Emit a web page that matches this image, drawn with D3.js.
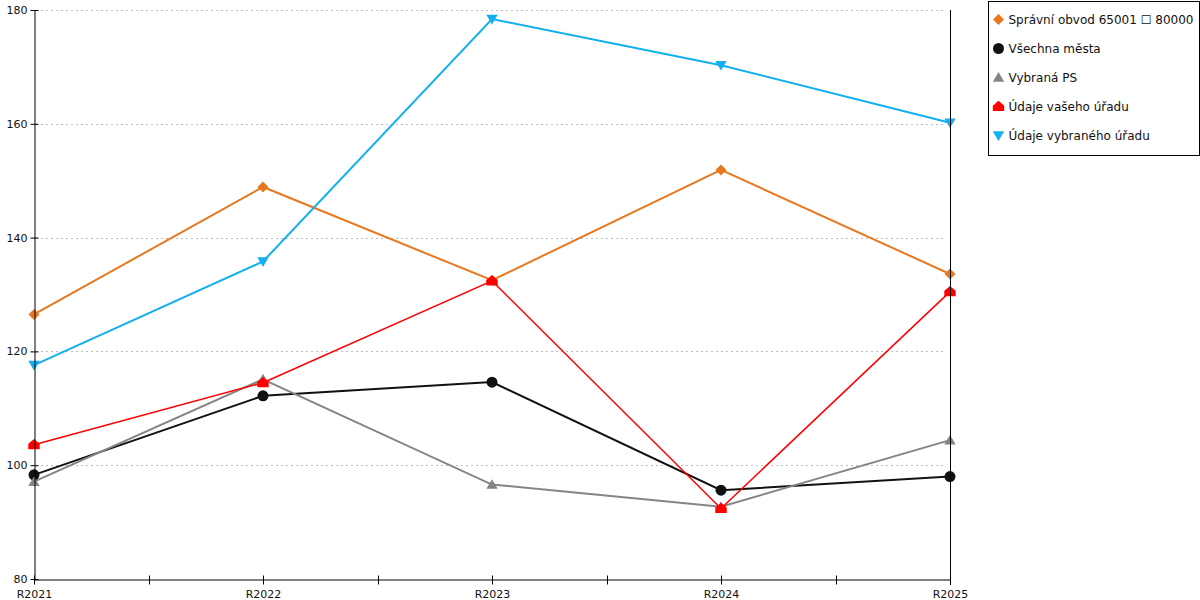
<!doctype html>
<html lang="cs">
<head>
<meta charset="utf-8" />
<title>Srovnání úřadů R2021–R2025</title>
<script src="https://d3js.org/d3.v7.min.js"></script>
<style>
  body { margin: 0; background: #fff; }
  svg text { font-family: "DejaVu Sans", Verdana, sans-serif; font-size: 11px; fill: #111; }
  svg .item text { font-size: 12px; }
</style>
</head>
<body>
<div id="chart"></div>
<script>
// categories (x axis)
var years = ["R2021", "R2022", "R2023", "R2024", "R2025"];
var yTicks = [80, 100, 120, 140, 160, 180];

// series values
var spravniObvod  = [126.5, 148.9, 132.5, 151.9, 133.6];
var vsechnaMesta  = [98.3, 112.2, 114.6, 95.6, 98.0];
var vybranaPS     = [97.1, 115.1, 96.6, 92.7, 104.4];
var vasUrad       = [103.6, 114.5, 132.4, 92.4, 130.5];
var vybranyUrad   = [117.6, 135.8, 178.4, 170.3, 160.2];

var seriesNames = ["Správní obvod 65001 \u2610 80000", "Všechna města", "Vybraná PS",
                   "Údaje vašeho úřadu", "Údaje vybraného úřadu"];
var seriesColors = ["#e8781f", "#111111", "#858585", "#ff0000", "#12b0ee"];

// marker shapes
var symbolHouse = {
    draw: function (ctx, size) {
        var w = Math.sqrt(size) / 2;
        ctx.moveTo(0, -w);
        ctx.lineTo(w, -w * 0.15);
        ctx.lineTo(w, w * 0.8);
        ctx.lineTo(-w, w * 0.8);
        ctx.lineTo(-w, -w * 0.15);
        ctx.closePath();
    }
};
var symbolTriDown = {
    draw: function (ctx, size) {
        var w = Math.sqrt(size) / 2;
        ctx.moveTo(-w, -w * 0.75);
        ctx.lineTo(w, -w * 0.75);
        ctx.lineTo(0, w * 0.95);
        ctx.closePath();
    }
};
var symbolTriUp = {
    draw: function (ctx, size) {
        var w = Math.sqrt(size) / 2;
        ctx.moveTo(-w, w * 0.75);
        ctx.lineTo(w, w * 0.75);
        ctx.lineTo(0, -w * 0.95);
        ctx.closePath();
    }
};
var symbolDiam = {
    draw: function (ctx, size) {
        var w = Math.sqrt(size) / 2;
        ctx.moveTo(0, -w);
        ctx.lineTo(w, 0);
        ctx.lineTo(0, w);
        ctx.lineTo(-w, 0);
        ctx.closePath();
    }
};

var series = [
    { name: seriesNames[0], values: spravniObvod, color: seriesColors[0], symbol: symbolDiam, size: 121, width: 2 },
    { name: seriesNames[1], values: vsechnaMesta, color: seriesColors[1], symbol: d3.symbolCircle, size: 95, width: 2 },
    { name: seriesNames[2], values: vybranaPS, color: seriesColors[2], symbol: symbolTriUp, size: 130, width: 2 },
    { name: seriesNames[3], values: vasUrad, color: seriesColors[3], symbol: symbolHouse, size: 130, width: 1.5 },
    { name: seriesNames[4], values: vybranyUrad, color: seriesColors[4], symbol: symbolTriDown, size: 130, width: 2 }
];

var width = 1200,
    height = 600,
    plot = { left: 34, right: 950, top: 10, bottom: 579 };

var svg = d3.select("#chart")
    .append("svg")
    .attr("width", width)
    .attr("height", height);

var x = d3.scalePoint().domain(years).range([plot.left, plot.right]);
var y = d3.scaleLinear().domain([80, 180]).range([plot.bottom, plot.top]);

// dashed grid lines
svg.append("g")
    .selectAll("line")
    .data(yTicks.filter(d => d > 80))
    .enter().append("line")
    .attr("x1", plot.left + 2)
    .attr("x2", plot.right - 4)
    .attr("y1", d => Math.round(y(d)) + 0.5)
    .attr("y2", d => Math.round(y(d)) + 0.5)
    .attr("stroke", "#bdbdbd")
    .attr("stroke-dasharray", "2,3");

// lines
var line = d3.line()
    .x((d, i) => x(years[i]))
    .y(d => y(d));

series.forEach(function (s) {
    svg.append("path")
        .datum(s.values)
        .attr("fill", "none")
        .attr("stroke", s.color)
        .attr("stroke-width", s.width)
        .attr("d", line);
});

// markers
series.forEach(function (s) {
    svg.append("g")
        .selectAll("path")
        .data(s.values)
        .enter().append("path")
        .attr("transform", (d, i) => `translate(${x(years[i])},${y(d)})`)
        .attr("fill", s.color)
        .attr("d", d3.symbol().type(s.symbol).size(s.size));
});

// right vertical line at last category
svg.append("line")
    .attr("x1", Math.round(x(years[years.length - 1])) + 0.5)
    .attr("x2", Math.round(x(years[years.length - 1])) + 0.5)
    .attr("y1", plot.top)
    .attr("y2", plot.bottom + 6)
    .attr("stroke", "#000");

// Y axis
var yAxis = d3.axisLeft(y).tickValues(yTicks).tickSize(4).tickSizeOuter(0).tickPadding(3);
var gy = svg.append("g")
    .attr("transform", `translate(${plot.left + 0.5},0)`)
    .call(yAxis);
gy.select(".domain").attr("stroke", "#000");
gy.selectAll(".tick line").attr("x2", -4).attr("x1", 4).attr("stroke", "#000");
gy.selectAll(".tick text").attr("x", -7).attr("font-size", null).attr("font-family", null);

// X axis: labels at categories, extra ticks between them
var xAxis = d3.axisBottom(x).tickSize(4).tickSizeOuter(0).tickPadding(7);
var gx = svg.append("g")
    .attr("transform", `translate(0,${plot.bottom + 0.5})`)
    .call(xAxis);
gx.select(".domain").attr("stroke", "#000");
gx.selectAll(".tick line").attr("y1", -4).attr("y2", 5).attr("stroke", "#000");
gx.selectAll(".tick text").attr("font-size", null).attr("font-family", null);

var mids = d3.pairs(years).map(p => (x(p[0]) + x(p[1])) / 2);
gx.selectAll(".mid")
    .data(mids)
    .enter().append("line")
    .attr("class", "mid")
    .attr("x1", d => Math.round(d) + 0.5)
    .attr("x2", d => Math.round(d) + 0.5)
    .attr("y1", -4)
    .attr("y2", 5)
    .attr("stroke", "#000");

// legend
var legend = svg.append("g").attr("transform", "translate(988.5,1.5)");
legend.append("rect")
    .attr("width", 211)
    .attr("height", 154)
    .attr("fill", "#fff")
    .attr("stroke", "#000");

var item = legend.selectAll(".item")
    .data(series)
    .enter().append("g")
    .attr("class", "item")
    .attr("transform", (d, i) => `translate(10,${18 + i * 29})`);

item.append("path")
    .attr("fill", d => d.color)
    .attr("d", d => d3.symbol().type(d.symbol).size(d.size)());

item.append("text")
    .attr("x", 10)
    .attr("dy", "0.35em")
    .text(d => d.name);
</script>
</body>
</html>
